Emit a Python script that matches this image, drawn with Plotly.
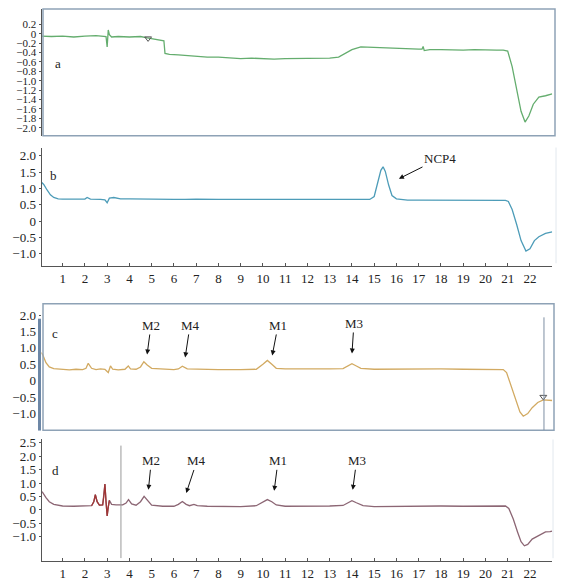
import plotly.graph_objects as go

# ---------------- data ----------------
x_ticks = list(range(1, 23))
x_ticktext = [str(v) for v in x_ticks]

a_ticks = [0.2, 0, -0.2, -0.4, -0.6, -0.8, -1.0, -1.2, -1.4, -1.6, -1.8, -2.0]
a_ticktext = ["0.2", "0", "\u22120.2", "\u22120.4", "\u22120.6", "\u22120.8", "\u22121.0",
              "\u22121.2", "\u22121.4", "\u22121.6", "\u22121.8", "\u22122.0"]
b_ticks = [2.0, 1.5, 1.0, 0.5, 0, -0.5, -1.0]
b_ticktext = ["2.0", "1.5", "1.0", "0.5", "0", "\u22120.5", "\u22121.0"]
c_ticks = b_ticks
c_ticktext = b_ticktext
d_ticks = [2.5, 2.0, 1.5, 1.0, 0.5, 0, -0.5, -1.0]
d_ticktext = ["2.5", "2.0", "1.5", "1.0", "0.5", "0", "\u22120.5", "\u22121.0"]

a_x = [0.0, 0.5, 1.0, 1.5, 2.0, 2.5, 2.95, 3.0, 3.05, 3.1, 3.2, 3.5, 4.0, 4.5, 4.8,
       5.0, 5.3, 5.55, 5.6, 5.8, 6.2, 6.6, 7.0, 7.5, 8.0, 8.5, 9.0, 9.5, 10.0, 10.5,
       11.0, 11.5, 12.0, 12.5, 13.0, 13.4, 13.7, 14.0, 14.4, 14.8, 15.5, 16.0, 16.5,
       17.0, 17.15, 17.2, 17.25, 17.5, 18.0, 18.5, 19.0, 19.5, 20.0, 20.5, 20.8,
       21.0, 21.2, 21.4, 21.6, 21.78, 21.95, 22.15, 22.4, 22.7, 23.0]
a_y = [-0.05, -0.06, -0.05, -0.07, -0.05, -0.04, -0.06, -0.28, 0.08, -0.02, -0.07,
       -0.06, -0.07, -0.06, -0.09, -0.11, -0.13, -0.15, -0.42, -0.44, -0.45, -0.47,
       -0.48, -0.5, -0.5, -0.52, -0.53, -0.52, -0.53, -0.54, -0.53, -0.53, -0.53,
       -0.52, -0.52, -0.5, -0.42, -0.34, -0.28, -0.29, -0.3, -0.31, -0.32, -0.33,
       -0.33, -0.27, -0.36, -0.34, -0.34, -0.35, -0.35, -0.34, -0.35, -0.35, -0.35,
       -0.37, -0.7, -1.2, -1.65, -1.88, -1.75, -1.5, -1.35, -1.32, -1.28]

b_x = [0.0, 0.15, 0.3, 0.45, 0.6, 0.8, 1.0, 1.5, 2.0, 2.1, 2.25, 2.7, 2.9, 3.0, 3.1,
       3.3, 3.6, 4.0, 4.5, 5.0, 5.5, 6.0, 6.5, 7.0, 8.0, 9.0, 10.0, 10.5, 11.0, 12.0,
       13.0, 14.0, 14.8, 15.0, 15.15, 15.3, 15.4, 15.5, 15.65, 15.8, 16.0, 16.5, 17.0,
       18.0, 19.0, 20.0, 20.9, 21.03, 21.2, 21.4, 21.6, 21.82, 22.0, 22.2, 22.4, 22.7,
       23.0]
b_y = [1.22, 1.12, 0.95, 0.8, 0.72, 0.68, 0.67, 0.66, 0.67, 0.72, 0.67, 0.66, 0.65,
       0.56, 0.7, 0.72, 0.68, 0.68, 0.67, 0.66, 0.65, 0.66, 0.66, 0.67, 0.66, 0.66,
       0.67, 0.68, 0.66, 0.66, 0.66, 0.66, 0.66, 0.75, 1.15, 1.55, 1.66, 1.52, 1.1,
       0.78, 0.68, 0.64, 0.64, 0.64, 0.63, 0.63, 0.63, 0.6, 0.35, -0.1, -0.6, -0.92,
       -0.85, -0.6, -0.48, -0.38, -0.33]

c_x = [0.0, 0.1, 0.25, 0.4, 0.6, 0.8, 1.0, 1.3, 1.6, 1.9, 2.05, 2.15, 2.3, 2.5, 2.7,
       2.9, 3.0, 3.05, 3.15, 3.25, 3.5, 3.8, 3.95, 4.05, 4.3, 4.5, 4.65, 4.8, 5.0, 5.5,
       6.0, 6.2, 6.38, 6.6, 7.0, 8.0, 9.0, 9.7, 10.0, 10.2, 10.4, 10.6, 11.0, 12.0,
       13.0, 13.6, 13.8, 14.0, 14.2, 14.4, 15.0, 16.0, 17.0, 18.0, 19.0, 20.0, 20.8,
       20.95, 21.15, 21.35, 21.55, 21.7, 21.9, 22.1, 22.35, 22.6, 22.85, 23.0]
c_y = [0.87, 0.8, 0.55, 0.42, 0.37, 0.36, 0.34, 0.33, 0.35, 0.34, 0.38, 0.53, 0.38,
       0.34, 0.36, 0.35, 0.28, 0.25, 0.45, 0.35, 0.33, 0.35, 0.45, 0.36, 0.35, 0.42,
       0.58, 0.48, 0.38, 0.36, 0.34, 0.36, 0.44, 0.36, 0.35, 0.34, 0.34, 0.35, 0.5,
       0.62, 0.5, 0.38, 0.36, 0.35, 0.36, 0.37, 0.45, 0.52, 0.45, 0.38, 0.35, 0.36,
       0.35, 0.36, 0.35, 0.34, 0.34, 0.25, -0.15, -0.6, -0.95, -1.08, -1.0, -0.82,
       -0.66, -0.58, -0.6, -0.6]

d_x = [0.0, 0.1, 0.25, 0.4, 0.6, 0.8, 1.0, 1.5, 2.0, 2.3, 2.4, 2.47, 2.55, 2.65,
       2.8, 2.85, 2.9, 2.95, 3.0, 3.05, 3.1, 3.2, 3.4, 3.7, 3.85, 3.96, 4.1, 4.3, 4.5,
       4.66, 4.85, 5.0, 5.5, 6.0, 6.2, 6.38, 6.55, 6.7, 6.9, 7.05, 7.5, 8.0, 9.0, 9.7,
       10.0, 10.2, 10.4, 10.6, 11.0, 12.0, 13.0, 13.6, 13.85, 14.0, 14.2, 14.5, 15.0,
       16.0, 17.0, 18.0, 19.0, 20.0, 20.9, 21.05, 21.25, 21.45, 21.6, 21.75, 21.9,
       22.1, 22.4, 22.7, 22.9, 23.0]
d_y = [0.72, 0.65, 0.45, 0.3, 0.2, 0.16, 0.14, 0.13, 0.13, 0.15, 0.3, 0.56, 0.3,
       0.17, 0.18, 0.5, 0.96, 0.3, -0.23, 0.1, 0.35, 0.2, 0.18, 0.18, 0.25, 0.38,
       0.22, 0.17, 0.3, 0.5, 0.3, 0.17, 0.13, 0.13, 0.2, 0.31, 0.2, 0.15, 0.2, 0.15,
       0.13, 0.12, 0.12, 0.15, 0.3, 0.38, 0.3, 0.18, 0.13, 0.13, 0.14, 0.16, 0.28,
       0.34, 0.26, 0.15, 0.12, 0.13, 0.13, 0.14, 0.13, 0.14, 0.14, 0.05, -0.35,
       -0.85, -1.2, -1.35, -1.3, -1.1, -0.95, -0.83, -0.82, -0.8]
# segment of trace d drawn in dark red
d_red_x = [2.3, 2.4, 2.47, 2.55, 2.65, 2.8, 2.85, 2.9, 2.95, 3.0, 3.05, 3.1]
d_red_y = [0.15, 0.3, 0.56, 0.3, 0.17, 0.18, 0.5, 0.96, 0.3, -0.23, 0.1, 0.35]

a_marker_x = [4.84]
a_marker_y = [-0.1]
c_marker_x = [22.6]
c_marker_y = [-0.49]
c_vline_x = 22.63
d_vline_x = 3.62

ncp_label = "NCP4"
ncp_x, ncp_y = 16.07, 1.28
c_peaks = ["M2", "M4", "M1", "M3"]
c_peak_x = [4.79, 6.5, 10.41, 14.0]
c_peak_y = [0.77, 0.68, 0.74, 0.8]
d_peaks = ["M2", "M4", "M1", "M3"]
d_peak_x = [4.85, 6.54, 10.5, 14.03]
d_peak_y = [0.71, 0.59, 0.67, 0.71]

# ---------------- figure ----------------
W, H = 563, 581
FONT = "Liberation Serif"


def px(x):
    return x / W


def py(y):
    return 1 - y / H


fig = go.Figure()
fig.add_trace(go.Scatter(x=a_x, y=a_y, mode="lines", xaxis="x", yaxis="y",
                         line=dict(color="#64ad6e", width=1.3)))
fig.add_trace(go.Scatter(x=a_marker_x, y=a_marker_y, mode="markers", xaxis="x", yaxis="y",
                         marker=dict(symbol="triangle-down-open", size=6, color="#555",
                                     line=dict(width=1))))
fig.add_trace(go.Scatter(x=b_x, y=b_y, mode="lines", xaxis="x2", yaxis="y2",
                         line=dict(color="#4d9cb8", width=1.3)))
fig.add_trace(go.Scatter(x=c_x, y=c_y, mode="lines", xaxis="x3", yaxis="y3",
                         line=dict(color="#d2aa62", width=1.3)))
fig.add_trace(go.Scatter(x=c_marker_x, y=c_marker_y, mode="markers", xaxis="x3", yaxis="y3",
                         marker=dict(symbol="triangle-down-open", size=6, color="#555",
                                     line=dict(width=1))))
fig.add_trace(go.Scatter(x=d_x, y=d_y, mode="lines", xaxis="x4", yaxis="y4",
                         line=dict(color="#8c6674", width=1.3)))
fig.add_trace(go.Scatter(x=d_red_x, y=d_red_y, mode="lines", xaxis="x4", yaxis="y4",
                         line=dict(color="#a03535", width=1.3)))

xdom = [px(41.5), px(552.2)]
xr = [0.05, 23.0]
tickfont = dict(family=FONT, size=13, color="#222")

hidden_x = dict(domain=xdom, range=xr, visible=False)
shown_x = dict(domain=xdom, range=xr, showline=True, linecolor="#555", linewidth=1,
               ticks="inside", ticklen=3, tickcolor="#555", tickvals=x_ticks,
               ticktext=x_ticktext, tickfont=tickfont, showgrid=False, zeroline=False)

ybase = dict(showgrid=False, zeroline=False, ticks="outside", ticklen=2, tickcolor="#555",
             tickfont=tickfont)

fig.update_layout(
    width=W, height=H, margin=dict(l=0, r=0, t=0, b=0),
    paper_bgcolor="white", plot_bgcolor="white", showlegend=False,
    xaxis=dict(hidden_x, anchor="y"),
    xaxis2=dict(shown_x, anchor="y2"),
    xaxis3=dict(hidden_x, anchor="y3"),
    xaxis4=dict(shown_x, anchor="y4"),
    yaxis=dict(ybase, domain=[py(133), py(5)], range=[-2.168, 0.526], anchor="x",
               tickvals=a_ticks, ticktext=a_ticktext, showline=True, linecolor="#555",
               tickfont=dict(family=FONT, size=11, color="#222")),
    yaxis2=dict(ybase, domain=[py(265), py(145)], range=[-1.385, 2.25], anchor="x2",
                tickvals=b_ticks, ticktext=b_ticktext, showline=True, linecolor="#555"),
    yaxis3=dict(ybase, domain=[py(430.7), py(303)], range=[-1.506, 2.34], anchor="x3",
                tickvals=c_ticks, ticktext=c_ticktext, showline=False),
    yaxis4=dict(ybase, domain=[py(563.3), py(440)], range=[-1.937, 2.63], anchor="x4",
                tickvals=d_ticks, ticktext=d_ticktext, showline=True, linecolor="#555"),
)

shapes = [
    # frames
    dict(type="rect", xref="paper", yref="paper", x0=px(43), x1=px(555), y0=py(133), y1=py(5),
         line=dict(color="#8ea2b6", width=1.5)),
    dict(type="rect", xref="paper", yref="paper", x0=px(43), x1=px(554), y0=py(430.7), y1=py(303),
         line=dict(color="#8ea2b6", width=1.5)),
    dict(type="line", xref="paper", yref="paper", x0=px(39.5), x1=px(39.5), y0=py(431), y1=py(318),
         line=dict(color="#6d87a6", width=3)),
    dict(type="line", xref="paper", yref="paper", x0=px(556), x1=px(556), y0=py(262), y1=py(145),
         line=dict(color="#e2e8ee", width=1)),
    dict(type="line", xref="paper", yref="paper", x0=px(553), x1=px(553), y0=py(560), y1=py(440),
         line=dict(color="#e2e8ee", width=1)),
    # vertical cursor lines
    dict(type="line", xref="x3", yref="y3", x0=c_vline_x, x1=c_vline_x, y0=-1.5, y1=1.93,
         line=dict(color="#7d8fa3", width=1)),
    dict(type="line", xref="x4", yref="y4", x0=d_vline_x, x1=d_vline_x, y0=-1.81, y1=2.4,
         line=dict(color="#9a9a9a", width=1)),
]
fig.update_layout(shapes=shapes)

annots = []
lab_font = dict(family=FONT, size=13, color="#222")
for t, x, y in [("a", 58, 60), ("b", 53, 173), ("c", 55, 333), ("d", 55, 471)]:
    annots.append(dict(text=t, xref="paper", yref="paper", x=px(x), y=py(y), showarrow=False,
                       font=lab_font, xanchor="center", yanchor="middle"))

arrow = dict(showarrow=True, arrowhead=2, arrowsize=1, arrowwidth=1, arrowcolor="#111",
             font=lab_font, standoff=1)
annots.append(dict(arrow, text=ncp_label, xref="x2", yref="y2", x=ncp_x, y=ncp_y,
                   ax=42, ay=-21))
c_off = [(4, -30), (5, -33), (6, -31), (2, -31)]
for name, x, y, (ax, ay) in zip(c_peaks, c_peak_x, c_peak_y, c_off):
    annots.append(dict(arrow, text=name, xref="x3", yref="y3", x=x, y=y, ax=ax, ay=ay))
d_off = [(3, -30), (11, -33), (4, -31), (4, -30)]
for name, x, y, (ax, ay) in zip(d_peaks, d_peak_x, d_peak_y, d_off):
    annots.append(dict(arrow, text=name, xref="x4", yref="y4", x=x, y=y, ax=ax, ay=ay))
fig.update_layout(annotations=annots)

fig.write_html("out.html", config={"displayModeBar": False},
               post_script="document.body.style.margin='0px';")
